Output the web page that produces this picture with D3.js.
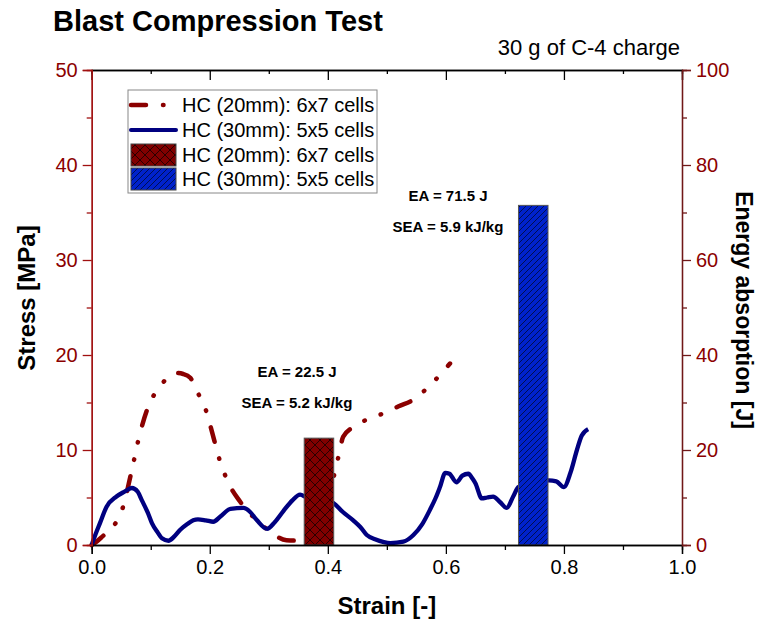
<!DOCTYPE html>
<html>
<head>
<meta charset="utf-8">
<script src="https://cdn.jsdelivr.net/npm/d3@7"></script>
<style>
  body { margin: 0; background: #fff; }
  svg { font-family: "Liberation Sans", Arial, sans-serif; }
</style>
</head>
<body>
<div id="chart"></div>
<script>
// HC (30mm): 5x5 cells -- stress vs strain
var blueStrain = [0, 0.007, 0.014, 0.025, 0.042, 0.055, 0.068, 0.078, 0.085, 0.095, 0.102, 0.112,
    0.119, 0.13, 0.14, 0.15, 0.162, 0.172, 0.18, 0.193, 0.206, 0.218, 0.235, 0.257, 0.268, 0.28,
    0.297, 0.31, 0.325, 0.34, 0.353, 0.365, 0.385, 0.41, 0.425, 0.443, 0.455, 0.466, 0.48, 0.495,
    0.506, 0.528, 0.545, 0.56, 0.573, 0.583, 0.59, 0.599, 0.606, 0.618, 0.628, 0.638, 0.645, 0.65,
    0.661, 0.67, 0.68, 0.692, 0.703, 0.714, 0.723, 0.75, 0.774, 0.787, 0.8, 0.811, 0.822, 0.83, 0.841];
var blueStress = [0, 1.2, 2.3, 4.0, 5.1, 5.6, 6.0, 5.6, 4.7, 3.4, 2.3, 1.3,
    0.7, 0.45, 0.9, 1.6, 2.2, 2.6, 2.7, 2.6, 2.45, 3.0, 3.8, 3.9, 3.5, 2.6,
    1.7, 2.4, 3.6, 4.7, 5.3, 5.0, 4.9, 4.4, 3.5, 2.6, 1.9, 1.05, 0.6, 0.3,
    0.2, 0.35, 1.05, 2.2, 3.7, 5.0, 6.1, 7.6, 7.5, 6.6, 7.3, 7.5, 7.0, 6.5,
    4.9, 5.0, 5.1, 4.5, 3.9, 5.1, 6.1, 6.5, 6.8, 6.7, 6.1, 7.6, 10.0, 11.5, 12.2];

// HC (20mm): 6x7 cells -- stress vs strain
var redStrain = [0, 0.005, 0.02, 0.036, 0.053, 0.068, 0.082, 0.096, 0.116, 0.13, 0.144, 0.155,
    0.167, 0.18, 0.195, 0.203, 0.217, 0.232, 0.251, 0.265, 0.28, 0.302, 0.33, 0.353, 0.37, 0.39,
    0.41, 0.418, 0.426, 0.44, 0.466, 0.5, 0.52, 0.545, 0.568, 0.59, 0.607];
var redStress = [0, 0.2, 1.0, 1.9, 4.0, 7.9, 11.8, 14.6, 16.7, 17.7, 18.1, 18.0,
    17.6, 16.0, 13.9, 12.1, 8.9, 6.5, 4.6, 3.5, 2.6, 1.4, 0.5, 0.45, 0.8, 3.0,
    7.2, 9.3, 11.4, 12.3, 13.2, 14.0, 14.6, 15.3, 16.5, 17.9, 19.1];

// energy absorption bars
var barNames = ["HC (20mm): 6x7 cells", "HC (30mm): 5x5 cells"];
var barStrain = [0.385, 0.748];
var barEnergy = [22.5, 71.5];
var barSEA = [5.2, 5.9];
var barWidth = 0.05;

var xTicks = [0, 0.2, 0.4, 0.6, 0.8, 1.0];
var leftTicks = [0, 10, 20, 30, 40, 50];
var rightTicks = [0, 20, 40, 60, 80, 100];

var W = 760, H = 622;
// plot box (note: "top" is a reserved window global, so prefix these)
var pLeft = 91.7, pRight = 682, pTop = 70, pBottom = 545;
var darkRed = "#8b0000";
var font = "'Liberation Sans', Arial, sans-serif";

var x = d3.scaleLinear().domain([0, 1]).range([pLeft, pRight]);
var yS = d3.scaleLinear().domain([0, 50]).range([pBottom, pTop]);
var yE = d3.scaleLinear().domain([0, 100]).range([pBottom, pTop]);

var svg = d3.select('#chart').append('svg')
    .attr('width', W)
    .attr('height', H);

var defs = svg.append('defs');

// cross hatch for the 20mm bar
var pc = defs.append('pattern')
    .attr('id', 'cross')
    .attr('patternUnits', 'userSpaceOnUse')
    .attr('width', 10).attr('height', 10);
pc.append('rect').attr('width', 10).attr('height', 10).attr('fill', '#800000');
pc.append('path').attr('d', 'M0,0L10,10M10,0L0,10')
    .attr('stroke', '#000').attr('stroke-width', 0.7);

// single hatch for the 30mm bar
var ps = defs.append('pattern')
    .attr('id', 'slash')
    .attr('patternUnits', 'userSpaceOnUse')
    .attr('width', 6).attr('height', 6);
ps.append('rect').attr('width', 6).attr('height', 6).attr('fill', '#0022cc');
ps.append('path').attr('d', 'M-1,7L7,-1M-1,1L1,-1M5,7L7,5')
    .attr('stroke', '#000').attr('stroke-width', 0.6);

var barFill = ['url(#cross)', 'url(#slash)'];

// title texts
svg.append('text')
    .attr('x', 53).attr('y', 31)
    .attr('font-size', 29).attr('font-weight', 'bold')
    .text('Blast Compression Test');

svg.append('text')
    .attr('x', 680).attr('y', 55)
    .attr('text-anchor', 'end')
    .attr('font-size', 22)
    .text('30 g of C-4 charge');

// curves
var line = d3.line()
    .x(function (d) { return x(d[0]); })
    .y(function (d) { return yS(d[1]); })
    .curve(d3.curveMonotoneX);

var redData = redStrain.map(function (s, i) { return [s, redStress[i]]; });
var blueData = blueStrain.map(function (s, i) { return [s, blueStress[i]]; });

svg.append('path')
    .attr('d', line(redData))
    .attr('fill', 'none')
    .attr('stroke', darkRed)
    .attr('stroke-width', 4.5)
    .attr('stroke-linecap', 'round')
    .attr('stroke-dasharray', '15,17,0.5,17,0.5,17');

svg.append('path')
    .attr('d', line(blueData))
    .attr('fill', 'none')
    .attr('stroke', '#000080')
    .attr('stroke-width', 4.3)
    .attr('stroke-linejoin', 'round');

// bars on the energy axis
svg.selectAll('.bar')
    .data(barEnergy)
    .enter()
    .append('rect')
    .attr('class', 'bar')
    .attr('x', function (d, i) { return x(barStrain[i] - barWidth / 2); })
    .attr('width', x(barWidth) - x(0))
    .attr('y', function (d) { return yE(d); })
    .attr('height', function (d) { return yE(0) - yE(d); })
    .attr('fill', function (d, i) { return barFill[i]; })
    .attr('stroke', '#555')
    .attr('stroke-width', 1);

// EA / SEA labels (pixel centres)
var noteX = [297, 448];
var noteY = [372, 196];
barEnergy.forEach(function (e, i) {
    svg.append('text')
        .attr('x', noteX[i]).attr('y', noteY[i] + 5)
        .attr('text-anchor', 'middle')
        .attr('font-size', 15).attr('font-weight', 'bold')
        .text('EA = ' + e + ' J');
    svg.append('text')
        .attr('x', noteX[i]).attr('y', noteY[i] + 36)
        .attr('text-anchor', 'middle')
        .attr('font-size', 15).attr('font-weight', 'bold')
        .text('SEA = ' + barSEA[i] + ' kJ/kg');
});

// axes
var xAxis = svg.append('g').attr('transform', 'translate(0,' + pBottom + ')');
xAxis.call(d3.axisBottom(x).tickValues(xTicks).tickSize(9).tickPadding(6)
    .tickFormat(d3.format('.1f')));
xAxis.append('g').call(d3.axisBottom(x).tickValues([0.1, 0.3, 0.5, 0.7, 0.9])
    .tickSize(5).tickFormat(''));

var xTop = svg.append('g').attr('transform', 'translate(0,' + pTop + ')');
xTop.call(d3.axisBottom(x).tickValues(xTicks).tickSize(10).tickFormat(''));
xTop.append('g').call(d3.axisBottom(x).tickValues([0.1, 0.3, 0.5, 0.7, 0.9])
    .tickSize(4).tickFormat(''));

var yLeft = svg.append('g').attr('transform', 'translate(' + pLeft + ',0)');
yLeft.call(d3.axisLeft(yS).tickValues(leftTicks).tickSize(9).tickPadding(5));
yLeft.append('g').call(d3.axisLeft(yS).tickValues([5, 15, 25, 35, 45])
    .tickSize(5).tickFormat(''));

var yRight = svg.append('g').attr('transform', 'translate(' + pRight + ',0)');
yRight.call(d3.axisRight(yE).tickValues(rightTicks).tickSize(9).tickPadding(5));
yRight.append('g').call(d3.axisRight(yE).tickValues([10, 30, 50, 70, 90])
    .tickSize(5).tickFormat(''));

svg.selectAll('.domain').attr('stroke-width', 1.3);
svg.selectAll('.tick line').attr('stroke-width', 1.3);
svg.selectAll('.tick text').attr('font-size', 20).attr('font-family', font);
xAxis.selectAll('.domain, .tick line').attr('stroke', '#000');
xAxis.selectAll('.tick text').attr('fill', '#000');
xTop.selectAll('.domain, .tick line').attr('stroke', '#000');
yLeft.selectAll('.domain, .tick line').attr('stroke', '#a01010');
yLeft.selectAll('.tick text').attr('fill', darkRed);
yRight.selectAll('.domain, .tick line').attr('stroke', '#701818');
yRight.selectAll('.tick text').attr('fill', darkRed);

// axis titles
svg.append('text')
    .attr('x', (pLeft + pRight) / 2).attr('y', 614)
    .attr('text-anchor', 'middle')
    .attr('font-size', 24).attr('font-weight', 'bold')
    .text('Strain [-]');

svg.append('text')
    .attr('transform', 'translate(35,298) rotate(-90)')
    .attr('text-anchor', 'middle')
    .attr('font-size', 24).attr('font-weight', 'bold')
    .text('Stress [MPa]');

svg.append('text')
    .attr('transform', 'translate(736,310) rotate(90)')
    .attr('text-anchor', 'middle')
    .attr('font-size', 23).attr('font-weight', 'bold')
    .text('Energy absorption  [J]');

// legend
var lg = svg.append('g');
lg.append('rect')
    .attr('x', 128).attr('y', 90)
    .attr('width', 249).attr('height', 103)
    .attr('fill', '#fff')
    .attr('stroke', '#888').attr('stroke-width', 1);

var legendRows = [
    { name: barNames[0], kind: 'line', color: darkRed, dash: '15,17,0.5,17' },
    { name: barNames[1], kind: 'line', color: '#000080', dash: null },
    { name: barNames[0], kind: 'bar', fill: barFill[0] },
    { name: barNames[1], kind: 'bar', fill: barFill[1] }
];
var rowY = [105, 130, 155, 179];

legendRows.forEach(function (r, i) {
    if (r.kind === 'line') {
        lg.append('line')
            .attr('x1', 131).attr('x2', 176)
            .attr('y1', rowY[i]).attr('y2', rowY[i])
            .attr('stroke', r.color)
            .attr('stroke-width', r.dash ? 4.5 : 4)
            .attr('stroke-linecap', 'round')
            .attr('stroke-dasharray', r.dash);
    } else {
        lg.append('rect')
            .attr('x', 131).attr('y', rowY[i] - 11)
            .attr('width', 45).attr('height', 22)
            .attr('fill', r.fill)
            .attr('stroke', '#444').attr('stroke-width', 1);
    }
    lg.append('text')
        .attr('x', 182).attr('y', rowY[i] + 7)
        .attr('font-size', 20)
        .text(r.name);
});
</script>
</body>
</html>
